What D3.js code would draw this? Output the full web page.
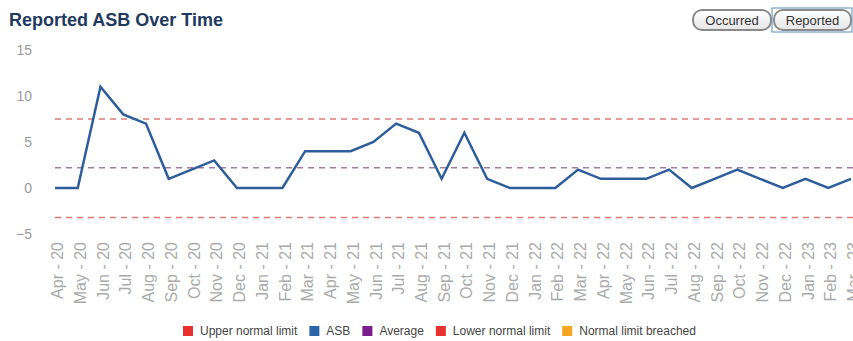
<!DOCTYPE html>
<html>
<head>
<meta charset="utf-8">
<script src="https://cdn.jsdelivr.net/npm/d3@7"></script>
<style>
  body { margin: 0; background: #fff; font-family: "Liberation Sans", Arial, sans-serif; }
  svg { display: block; }
</style>
</head>
<body>
<svg id="chart" width="853" height="341"></svg>
<script>
// months shown on the x axis
var months = ["Apr - 20","May - 20","Jun - 20","Jul - 20","Aug - 20","Sep - 20","Oct - 20","Nov - 20","Dec - 20",
  "Jan - 21","Feb - 21","Mar - 21","Apr - 21","May - 21","Jun - 21","Jul - 21","Aug - 21","Sep - 21","Oct - 21","Nov - 21","Dec - 21",
  "Jan - 22","Feb - 22","Mar - 22","Apr - 22","May - 22","Jun - 22","Jul - 22","Aug - 22","Sep - 22","Oct - 22","Nov - 22","Dec - 22",
  "Jan - 23","Feb - 23","Mar - 23"];

// reported ASB count per month
var asb = [0,0,11,8,7,1,2,3,0,0,0,4,4,4,5,7,6,1,6,1,0,0,0,2,1,1,1,2,0,1,2,1,0,1,0,1];

// control limits (flat across the period)
var upperLimit = 7.5;
var average = 2.2;
var lowerLimit = -3.2;

var yTicks = [-5, 0, 5, 10, 15];

var legendItems = [
  { label: "Upper normal limit", color: "#e8312f" },
  { label: "ASB", color: "#2c66a8" },
  { label: "Average", color: "#7b1d8c" },
  { label: "Lower normal limit", color: "#e8312f" },
  { label: "Normal limit breached", color: "#f5a623" }
];

var svg = d3.select("#chart");

var x = d3.scalePoint().domain(months).range([55, 851]);
var y = d3.scaleLinear().domain([-5, 15]).range([234, 50]);

// title
svg.append("text")
    .attr("x", 9)
    .attr("y", 26)
    .style("font-size", "18px")
    .style("font-weight", "bold")
    .style("fill", "#1f3a5f")
    .text("Reported ASB Over Time");

// toggle buttons
var buttons = [
  { label: "Occurred", x: 693, w: 78, selected: false },
  { label: "Reported", x: 774, w: 77, selected: true }
];

var defs = svg.append("defs");
var grad = defs.append("linearGradient").attr("id", "btnGrad")
    .attr("x1", 0).attr("y1", 0).attr("x2", 0).attr("y2", 1);
grad.append("stop").attr("offset", "0%").attr("stop-color", "#ffffff");
grad.append("stop").attr("offset", "100%").attr("stop-color", "#e6e6e6");

buttons.forEach(function(b) {
  if (b.selected) {
    svg.append("rect")
        .attr("x", b.x - 2).attr("y", 8)
        .attr("width", b.w + 3).attr("height", 24)
        .attr("fill", "none")
        .attr("stroke", "#5b8db8")
        .attr("stroke-width", 1);
  }
  svg.append("rect")
      .attr("x", b.x).attr("y", 10)
      .attr("width", b.w).attr("height", 20)
      .attr("rx", 9)
      .attr("fill", "url(#btnGrad)")
      .attr("stroke", "#8a8a8a")
      .attr("stroke-width", 2);
  svg.append("text")
      .attr("x", b.x + b.w / 2)
      .attr("y", 24.5)
      .attr("text-anchor", "middle")
      .style("font-size", "13px")
      .style("fill", "#333")
      .text(b.label);
});

// y axis
var yAxis = svg.append("g")
    .attr("transform", "translate(32,0)")
    .call(d3.axisLeft(y).tickValues(yTicks).tickSize(0).tickPadding(0));
yAxis.select(".domain").remove();
yAxis.selectAll("text")
    .style("font-family", "Liberation Sans, Arial, sans-serif")
    .style("font-size", "14px")
    .style("fill", "#9a9a9a");

// x axis
var xAxis = svg.append("g")
    .attr("transform", "translate(0,242)")
    .call(d3.axisBottom(x).tickSize(0).tickPadding(0));
xAxis.select(".domain").remove();
xAxis.selectAll("text")
    .attr("transform", "rotate(-90)")
    .attr("text-anchor", "end")
    .attr("x", 0)
    .attr("y", 2)
    .attr("dy", "0.35em")
    .style("font-family", "Liberation Sans, Arial, sans-serif")
    .style("font-size", "16px")
    .style("fill", "#aaaaaa");

// dashed control lines
var limits = [
  { value: upperLimit, color: "#e27a7a" },
  { value: average, color: "#a47a9e" },
  { value: lowerLimit, color: "#e27a7a" }
];

svg.selectAll("line.limit")
    .data(limits)
  .enter().append("line")
    .attr("class", "limit")
    .attr("x1", x(months[0]))
    .attr("x2", 853)
    .attr("y1", function(d) { return y(d.value); })
    .attr("y2", function(d) { return y(d.value); })
    .attr("stroke", function(d) { return d.color; })
    .attr("stroke-width", 1.5)
    .attr("stroke-dasharray", "6,5");

// ASB line
var line = d3.line()
    .x(function(d, i) { return x(months[i]); })
    .y(function(d) { return y(d); });

svg.append("path")
    .datum(asb)
    .attr("fill", "none")
    .attr("stroke", "#2d5d9b")
    .attr("stroke-width", 2.5)
    .attr("stroke-linejoin", "miter")
    .attr("d", line);

// legend
var legend = svg.append("g").attr("transform", "translate(0,331)");
var lx = 183;
legendItems.forEach(function(item) {
  legend.append("rect")
      .attr("x", lx).attr("y", -5)
      .attr("width", 10).attr("height", 10)
      .attr("fill", item.color);
  var t = legend.append("text")
      .attr("x", lx + 17)
      .attr("y", 4)
      .style("font-size", "12px")
      .style("fill", "#444")
      .text(item.label);
  lx += 17 + t.node().getComputedTextLength() + 12;
});
</script>
</body>
</html>
